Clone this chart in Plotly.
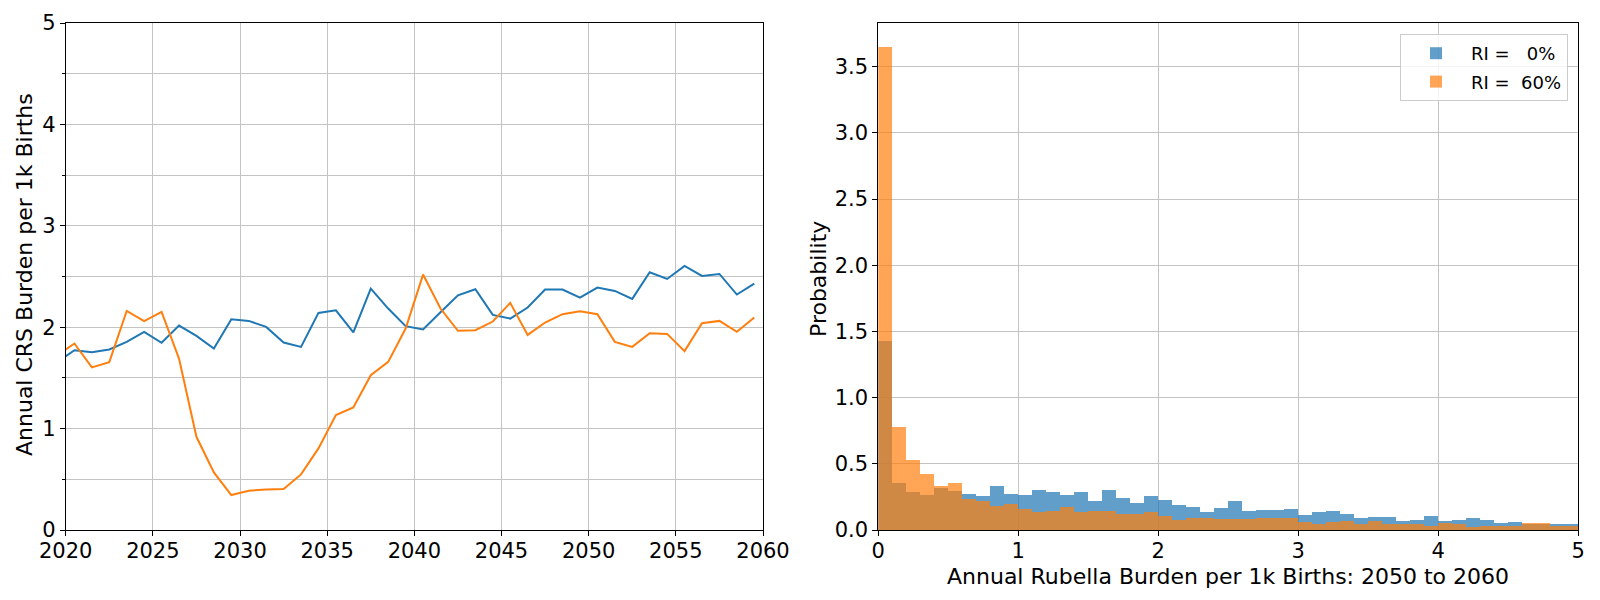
import plotly.graph_objects as go

# ---------------- Left panel data: annual CRS burden ----------------
years = [2019.5 + i for i in range(41)]  # 2019.5 .. 2059.5
crs_ri0 = [1.655, 1.773, 1.754, 1.780, 1.855, 1.954, 1.846, 2.016, 1.915, 1.790,
           2.079, 2.062, 2.003, 1.849, 1.806, 2.141, 2.167, 1.948, 2.381, 2.184,
           2.010, 1.977, 2.148, 2.315, 2.374, 2.121, 2.085, 2.194, 2.371, 2.371,
           2.292, 2.391, 2.358, 2.279, 2.542, 2.476, 2.604, 2.506, 2.525, 2.322,
           2.430]
crs_ri60 = [1.720, 1.839, 1.603, 1.655, 2.161, 2.059, 2.151, 1.691, 0.919, 0.568,
            0.345, 0.387, 0.400, 0.404, 0.548, 0.805, 1.133, 1.208, 1.527, 1.658,
            1.987, 2.519, 2.184, 1.964, 1.970, 2.056, 2.240, 1.924, 2.046, 2.128,
            2.158, 2.128, 1.855, 1.806, 1.941, 1.934, 1.764, 2.039, 2.062, 1.954,
            2.095]

# ---------------- Right panel data: histogram (density) ----------------
bin_edges = [round(0.1 * i, 1) for i in range(51)]
hist_ri0 = [1.428, 0.355, 0.287, 0.262, 0.317, 0.295, 0.272, 0.257, 0.332, 0.272,
            0.264, 0.302, 0.287, 0.264, 0.287, 0.219, 0.302, 0.242, 0.204, 0.257,
            0.227, 0.189, 0.174, 0.136, 0.166, 0.219, 0.144, 0.151, 0.151, 0.159,
            0.113, 0.136, 0.144, 0.121, 0.091, 0.098, 0.098, 0.068, 0.076, 0.106,
            0.068, 0.076, 0.091, 0.076, 0.053, 0.060, 0.045, 0.043, 0.045, 0.045]
hist_ri60 = [3.647, 0.778, 0.529, 0.423, 0.332, 0.355, 0.232, 0.217, 0.181, 0.199,
             0.156, 0.136, 0.141, 0.171, 0.136, 0.141, 0.141, 0.123, 0.123, 0.136,
             0.106, 0.076, 0.093, 0.093, 0.083, 0.083, 0.083, 0.093, 0.093, 0.093,
             0.060, 0.045, 0.060, 0.068, 0.045, 0.068, 0.045, 0.045, 0.045, 0.030,
             0.053, 0.045, 0.023, 0.030, 0.030, 0.030, 0.053, 0.053, 0.030, 0.030]
labels = ["RI =\u00a0\u00a0\u00a00%", "RI =\u00a0\u00a060%"]

left_xticks = [2020, 2025, 2030, 2035, 2040, 2045, 2050, 2055, 2060]
left_yticks = [0, 1, 2, 3, 4, 5]
right_xticks = [0, 1, 2, 3, 4, 5]
right_yticks = [0.0, 0.5, 1.0, 1.5, 2.0, 2.5, 3.0, 3.5]
right_yticklabels = ["0.0", "0.5", "1.0", "1.5", "2.0", "2.5", "3.0", "3.5"]

left_ytitle = "Annual CRS Burden per 1k Births"
right_xtitle = "Annual Rubella Burden per 1k Births: 2050 to 2060"
right_ytitle = "Probability"

BLUE = "#1f77b4"
ORANGE = "#ff7f0e"
GRID = "#c4c4c4"
FONT = "DejaVu Sans"
FS = 21
FS_TITLE = 22

W, H = 1600, 600

centers = [(bin_edges[i] + bin_edges[i + 1]) / 2 for i in range(len(bin_edges) - 1)]
widths = [bin_edges[i + 1] - bin_edges[i] for i in range(len(bin_edges) - 1)]

fig = go.Figure()
fig.add_trace(go.Scatter(x=years, y=crs_ri0, mode="lines", line=dict(color=BLUE, width=2),
                         showlegend=False, xaxis="x", yaxis="y"))
fig.add_trace(go.Scatter(x=years, y=crs_ri60, mode="lines", line=dict(color=ORANGE, width=2),
                         showlegend=False, xaxis="x", yaxis="y"))
fig.add_trace(go.Bar(x=centers, y=hist_ri0, width=widths, name=labels[0], legendgroup="a",
                     marker=dict(color=BLUE, line=dict(width=0)), opacity=0.7,
                     xaxis="x2", yaxis="y2"))
fig.add_trace(go.Bar(x=centers, y=hist_ri60, width=widths, name=labels[1], legendgroup="b",
                     marker=dict(color=ORANGE, line=dict(width=0)), opacity=0.7,
                     xaxis="x2", yaxis="y2"))

axis_common = dict(showline=True, linecolor="black", linewidth=1, mirror=True,
                   ticks="outside", ticklen=5, tickwidth=1, tickcolor="black",
                   showgrid=True, gridcolor=GRID, gridwidth=1, zeroline=False,
                   automargin=False,
                   tickfont=dict(family=FONT, size=FS, color="black"))

ydom = [1 - 530 / H, 1 - 23 / H]

fig.update_layout(
    width=W, height=H,
    margin=dict(l=0, r=0, t=0, b=0),
    paper_bgcolor="white", plot_bgcolor="white",
    barmode="overlay", bargap=0,
    font=dict(family=FONT, size=FS, color="black"),
    xaxis=dict(domain=[65.7 / W, 763 / W], range=[2020, 2060], ticklabelstandoff=-3,
               tickmode="array", tickvals=left_xticks, anchor="y", **axis_common),
    yaxis=dict(domain=ydom, range=[0, 5], tickmode="array", tickvals=left_yticks,
               minor=dict(dtick=0.5, tick0=0, ticks="outside", ticklen=3, tickcolor="black",
                          showgrid=True, gridcolor=GRID, gridwidth=1),
               anchor="x", **axis_common),
    xaxis2=dict(domain=[878.3 / W, 1578.3 / W], range=[0, 5], ticklabelstandoff=-3,
                tickmode="array", tickvals=right_xticks, anchor="y2", **axis_common),
    yaxis2=dict(domain=ydom, range=[0, 3.83], tickmode="array", tickvals=right_yticks,
                ticktext=right_yticklabels, anchor="x2", **axis_common),
    legend=dict(x=1568 / W, y=1 - 34 / H, xanchor="right", yanchor="top",
                bgcolor="rgba(255,255,255,0.8)", bordercolor="#cccccc", borderwidth=1,
                font=dict(family=FONT, size=18, color="black"),
                traceorder="grouped", tracegroupgap=2, itemwidth=60),
    annotations=[
        dict(text=left_ytitle, xref="paper", yref="paper", x=25 / W, y=1 - 275 / H,
             textangle=-90, showarrow=False, xanchor="center", yanchor="middle",
             font=dict(family=FONT, size=FS_TITLE, color="black")),
        dict(text=right_ytitle, xref="paper", yref="paper", x=818 / W, y=1 - 279 / H,
             textangle=-90, showarrow=False, xanchor="center", yanchor="middle",
             font=dict(family=FONT, size=FS_TITLE, color="black")),
        dict(text=right_xtitle, xref="paper", yref="paper", x=(878.3 + 1578.3) / 2 / W,
             y=1 - 576 / H, showarrow=False, xanchor="center", yanchor="middle",
             font=dict(family=FONT, size=FS_TITLE, color="black")),
    ],
)

fig.write_html("out.html", config={"displayModeBar": False},
               post_script="document.body.style.margin='0';document.body.style.overflow='hidden';")
